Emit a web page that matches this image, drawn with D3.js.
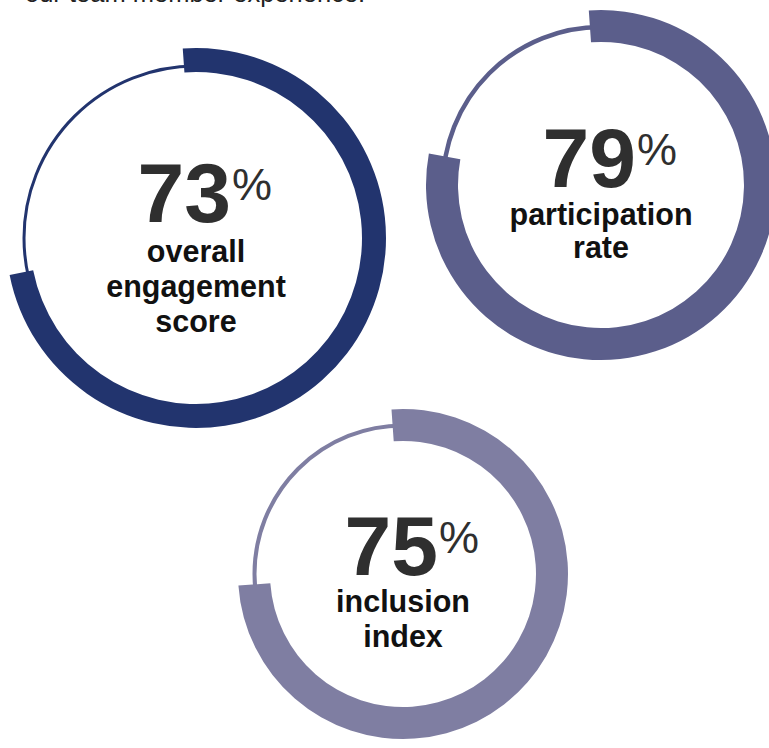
<!DOCTYPE html>
<html>
<head>
<meta charset="utf-8">
<script src="https://cdn.jsdelivr.net/npm/d3@7"></script>
<style>
  body { margin: 0; background: #fff; }
  text { font-family: "Liberation Sans", Arial, sans-serif; }
</style>
</head>
<body>
<div id="chart"></div>
<script>
// Chart data
var introText = "our team member experience.";
var values = [73, 79, 75];
var labels = [
  ["overall", "engagement", "score"],
  ["participation", "rate"],
  ["inclusion", "index"]
];

// Ring layout (positions and styles only)
var rings = [
  { cx: 196, cy: 238, rOuter: 190, width: 24, thinR: 172, thinW: 3,   color: "#22346e", numY: 222, labelY: 262, lineH: 35 },
  { cx: 601, cy: 185, rOuter: 175, width: 32, thinR: 158, thinW: 4.5, color: "#5b5e8b", numY: 187, labelY: 225, lineH: 33 },
  { cx: 403, cy: 574, rOuter: 165, width: 32, thinR: 148.5, thinW: 4, color: "#7f7ea2", numY: 575, labelY: 612, lineH: 35 }
];

var svgWidth = 769;
var svgHeight = 748;
var startOffset = -4 * Math.PI / 180;

var svg = d3.select("#chart")
  .append("svg")
  .attr("width", svgWidth)
  .attr("height", svgHeight);

// Percent -> angle
var angleScale = d3.scaleLinear()
  .domain([0, 100])
  .range([0, 2 * Math.PI]);

// Intro line, cut off at the top edge
svg.append("text")
  .attr("x", 25)
  .attr("y", 2)
  .attr("font-size", 25.5)
  .attr("fill", "#222")
  .text(introText);

var groups = svg.selectAll(".ring")
  .data(values)
  .enter()
  .append("g")
  .attr("class", "ring")
  .attr("transform", (d, i) => `translate(${rings[i].cx}, ${rings[i].cy})`);

// Thin full circle
groups.append("circle")
  .attr("r", (d, i) => rings[i].thinR)
  .attr("fill", "none")
  .attr("stroke", (d, i) => rings[i].color)
  .attr("stroke-width", (d, i) => rings[i].thinW);

// Thick value arc
groups.append("path")
  .attr("fill", (d, i) => rings[i].color)
  .attr("d", (d, i) => d3.arc()
    .innerRadius(rings[i].rOuter - rings[i].width)
    .outerRadius(rings[i].rOuter)
    .startAngle(startOffset)
    .endAngle(startOffset + angleScale(d))());

// Big number
groups.append("text")
  .attr("x", 35)
  .attr("y", (d, i) => rings[i].numY - rings[i].cy)
  .attr("text-anchor", "end")
  .attr("font-size", 84)
  .attr("font-weight", "bold")
  .attr("fill", "#2f2f2f")
  .text(d => d);

// Percent sign
groups.append("text")
  .attr("x", 36)
  .attr("y", (d, i) => rings[i].numY - rings[i].cy - 22)
  .attr("font-size", 45)
  .attr("fill", "#2f2f2f")
  .text("%");

// Labels
groups.each(function(d, i) {
  var g = d3.select(this);
  labels[i].forEach(function(line, j) {
    g.append("text")
      .attr("x", 0)
      .attr("y", rings[i].labelY - rings[i].cy + j * rings[i].lineH)
      .attr("text-anchor", "middle")
      .attr("font-size", 30.5)
      .attr("font-weight", "bold")
      .attr("fill", "#111")
      .text(line);
  });
});
</script>
</body>
</html>
